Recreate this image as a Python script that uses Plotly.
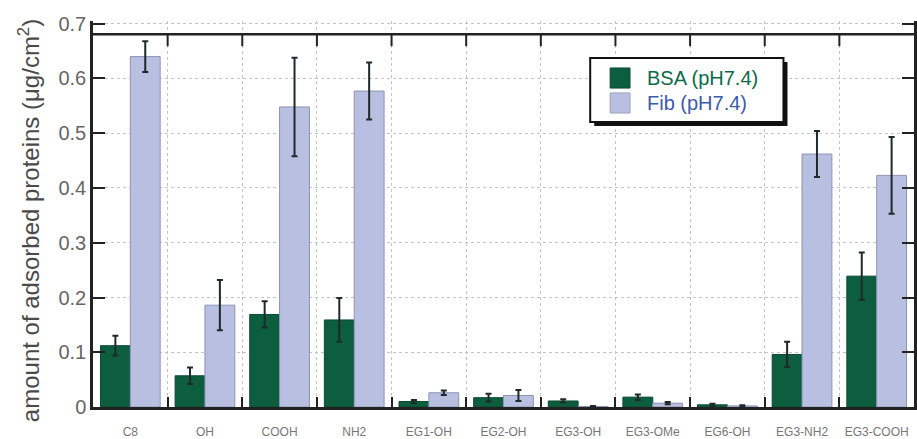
import plotly.graph_objects as go

categories = ["C8", "OH", "COOH", "NH2", "EG1-OH", "EG2-OH", "EG3-OH",
              "EG3-OMe", "EG6-OH", "EG3-NH2", "EG3-COOH"]
series_names = ["BSA (pH7.4)", "Fib (pH7.4)"]
bsa = [0.112, 0.057, 0.169, 0.159, 0.010, 0.017, 0.011, 0.018, 0.004, 0.096, 0.239]
bsa_err = [0.018, 0.015, 0.024, 0.040, 0.003, 0.007, 0.003, 0.005, 0.002, 0.023, 0.043]
fib = [0.640, 0.186, 0.548, 0.577, 0.026, 0.021, 0.001, 0.007, 0.002, 0.462, 0.423]
fib_err = [0.028, 0.046, 0.090, 0.052, 0.004, 0.010, 0.001, 0.002, 0.001, 0.042, 0.070]
y_tickvals = [0, 0.1, 0.2, 0.3, 0.4, 0.5, 0.6, 0.7]
y_ticktext = ["0", "0.1", "0.2", "0.3", "0.4", "0.5", "0.6", "0.7"]
y_title = "amount of adsorbed proteins (μg/cm<sup>2</sup>)"
frame_top = 0.681

FONT = "Liberation Sans, Arial, Helvetica, sans-serif"
GREEN = "#0c5e3f"
LAV = "#b9bfe0"
TEXT_COLORS = ["#0d6b47", "#3d5aa8"]
FILLS = [GREEN, LAV]
EDGES = ["#0a4a32", "#9ba0bd"]

fig = go.Figure()
fig.add_trace(go.Bar(
    x=categories, y=bsa, name=series_names[0],
    marker=dict(color=GREEN, line=dict(color="#0a4a32", width=1)),
    error_y=dict(type="data", array=bsa_err, color="#1e2a2a", thickness=2, width=3),
))
fig.add_trace(go.Bar(
    x=categories, y=fib, name=series_names[1],
    marker=dict(color=LAV, line=dict(color="#8d92b3", width=1)),
    error_y=dict(type="data", array=fib_err, color="#1e2a2a", thickness=2, width=3),
))

shapes = []
# thick top frame line
shapes.append(dict(type="line", xref="paper", yref="y", x0=0, x1=1, y0=frame_top, y1=frame_top,
                   line=dict(color="#222", width=2.5), layer="above"))
# top ticks at category boundaries
for i in range(1, len(categories)):
    shapes.append(dict(type="line", xref="x", yref="y", x0=i - 0.5, x1=i - 0.5,
                       y0=frame_top, y1=frame_top - 0.022,
                       line=dict(color="#222", width=2), layer="above"))

# legend box with drop shadow (drawn manually)
shapes.append(dict(type="rect", xref="paper", yref="paper", x0=0.6105, x1=0.8459, y0=0.728, y1=0.8938,
                   fillcolor="#111", line=dict(width=0), layer="above"))
shapes.append(dict(type="rect", xref="paper", yref="paper", x0=0.6056, x1=0.841, y0=0.7383, y1=0.9041,
                   fillcolor="white", line=dict(color="#111", width=2), layer="above"))
annotations = []
row_y = [0.8523, 0.7876]
for k in range(2):
    shapes.append(dict(type="rect", xref="paper", yref="paper", x0=0.6299, x1=0.6541,
                       y0=row_y[k] - 0.026, y1=row_y[k] + 0.026,
                       fillcolor=FILLS[k], line=dict(color=EDGES[k], width=1), layer="above"))
    annotations.append(dict(xref="paper", yref="paper", x=0.6723, y=row_y[k], xanchor="left",
                            yanchor="middle", text=series_names[k], showarrow=False,
                            font=dict(size=20, color=TEXT_COLORS[k], family=FONT)))

# y-axis title
annotations.append(dict(xref="paper", yref="paper", x=-0.0777, y=0.482, xanchor="center",
                        yanchor="middle", textangle=-90, text=y_title, showarrow=False,
                        font=dict(size=24, color="#4a4a4a", family=FONT)))

fig.update_layout(
    width=917, height=439,
    margin=dict(l=93, r=0, t=21, b=32),
    paper_bgcolor="white", plot_bgcolor="white",
    barmode="group", bargap=0.2, bargroupgap=0,
    font=dict(family=FONT, color="#555"),
    shapes=shapes, annotations=annotations,
    showlegend=False,
)
fig.update_xaxes(
    range=[-0.5, 10.5], tickson="boundaries", ticks="inside", ticklen=10, tickwidth=2,
    tickcolor="#222", showline=True, linecolor="#222", linewidth=2.5,
    showgrid=True, gridcolor="#c4c4c4", griddash="dot", gridwidth=1,
    tickfont=dict(size=12, color="#777", family=FONT), ticklabelstandoff=12,
)
fig.update_yaxes(
    range=[0, 0.705], tickvals=y_tickvals, ticktext=y_ticktext,
    ticks="inside", ticklen=12, tickwidth=2, tickcolor="#222",
    showline=True, linecolor="#222", linewidth=2.5, mirror="ticks",
    showgrid=True, gridcolor="#c4c4c4", griddash="dot", gridwidth=1,
    zeroline=False,
    tickfont=dict(size=20, color="#666", family=FONT),
)

fig.write_html("out.html")
